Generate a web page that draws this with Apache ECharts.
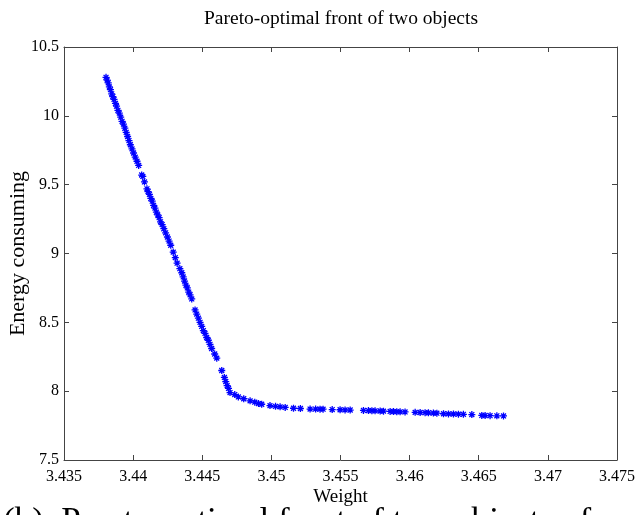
<!DOCTYPE html>
<html>
<head>
<meta charset="utf-8">
<script src="https://cdn.jsdelivr.net/npm/echarts@6/dist/echarts.min.js"></script>
<style>html,body{margin:0;padding:0;background:#fff;}#c{width:635px;height:515px;}</style>
</head>
<body>
<div id="c"></div>
<script>
var weights = [
3.43804,3.43812,3.43820,3.43828,3.43836,3.43845,3.43853,3.43862,3.43872,3.43880,
3.43890,3.43900,3.43910,3.43920,3.43930,3.43940,3.43950,3.43960,3.43970,3.43980,
3.43992,3.44003,3.44015,3.44028,3.44040,3.44062,3.44070,3.44082,3.44100,3.44108,
3.44118,3.44128,3.44138,3.44148,3.44158,3.44168,3.44178,3.44188,3.44198,3.44210,
3.44222,3.44235,3.44248,3.44260,3.44272,3.44290,3.44305,3.44318,3.44338,3.44352,
3.44362,3.44372,3.44382,3.44392,3.44402,3.44412,3.44424,3.44448,3.44460,3.44472,
3.44484,3.44496,3.44508,3.44520,3.44532,3.44544,3.44556,3.44568,3.44590,3.44605,
3.44641,3.44660,3.44670,3.44680,3.44690,3.44701,3.44735,3.44761,3.44800,3.44846,
3.44880,3.44907,3.44930,3.44990,3.45030,3.45063,3.45100,3.45160,3.45210,3.45280,
3.45320,3.45352,3.45374,3.45440,3.45497,3.45533,3.45570,3.45666,3.45702,3.45727,
3.45750,3.45787,3.45811,3.45859,3.45883,3.45907,3.45931,3.45967,3.46040,3.46076,
3.46112,3.46136,3.46172,3.46197,3.46245,3.46281,3.46317,3.46353,3.46389,3.46450,
3.46522,3.46546,3.46582,3.46631,3.46679
];
var energies = [
10.28,10.26,10.24,10.21,10.19,10.16,10.14,10.12,10.09,10.07,
10.04,10.02,9.99,9.96,9.94,9.91,9.88,9.85,9.82,9.79,
9.76,9.73,9.70,9.67,9.64,9.57,9.56,9.52,9.47,9.45,
9.43,9.40,9.38,9.35,9.33,9.30,9.28,9.26,9.23,9.21,
9.18,9.15,9.12,9.09,9.06,9.01,8.97,8.93,8.89,8.86,
8.83,8.80,8.77,8.75,8.72,8.70,8.67,8.59,8.56,8.53,
8.50,8.47,8.44,8.42,8.39,8.37,8.34,8.31,8.27,8.24,
8.15,8.10,8.07,8.04,8.02,7.99,7.975,7.958,7.945,7.93,
7.92,7.91,7.905,7.895,7.89,7.886,7.882,7.876,7.874,7.870,
7.870,7.869,7.869,7.866,7.865,7.864,7.863,7.860,7.859,7.858,
7.857,7.856,7.855,7.853,7.852,7.851,7.850,7.849,7.846,7.845,
7.844,7.843,7.841,7.840,7.836,7.835,7.834,7.833,7.832,7.830,
7.824,7.823,7.822,7.821,7.820
];
var xTicks = {min: 3.435, max: 3.475, interval: 0.005};
var yTicks = {min: 7.5, max: 10.5, interval: 0.5};
var titleText = 'Pareto-optimal front of two objects';
var xName = 'Weight';
var yName = 'Energy consuming';
var captionText = '(b)  Pareto-optimal front of two objects of';

var pts = weights.map(function (w, i) { return [w, energies[i]]; });
var serif = '"Liberation Serif", "Times New Roman", serif';
var axisCol = '#444';
function xFmt(v) { return (+v.toFixed(3)).toString(); }
function yFmt(v) { return (+v.toFixed(1)).toString(); }

var chart = echarts.init(document.getElementById('c'), null, {renderer: 'canvas'});
chart.setOption({
  backgroundColor: '#fff',
  animation: false,
  title: {
    text: titleText, left: 336, top: 4, textAlign: 'center',
    textStyle: {fontFamily: serif, fontSize: 19.5, fontWeight: 'normal', color: '#000'}
  },
  grid: {left: 64, right: 18, top: 47, bottom: 55, containLabel: false, outerBoundsMode: 'none'},
  xAxis: [{
    type: 'value', min: xTicks.min, max: xTicks.max, interval: xTicks.interval,
    position: 'bottom',
    name: xName, nameLocation: 'middle', nameGap: 28, nameMoveOverlap: false,
    nameTextStyle: {fontFamily: serif, fontSize: 19, color: '#000'},
    axisLine: {show: true, lineStyle: {color: axisCol, width: 1}},
    axisTick: {show: true, inside: true, length: 5, lineStyle: {color: axisCol}},
    axisLabel: {fontFamily: serif, fontSize: 16, color: '#000', margin: 9, formatter: xFmt, showMinLabel: true, showMaxLabel: true, hideOverlap: false},
    splitLine: {show: false}
  }, {
    type: 'value', min: xTicks.min, max: xTicks.max, interval: xTicks.interval,
    position: 'top',
    axisLine: {show: true, lineStyle: {color: axisCol, width: 1}},
    axisTick: {show: true, inside: true, length: 5, lineStyle: {color: axisCol}},
    axisLabel: {show: false}, splitLine: {show: false}
  }],
  yAxis: [{
    type: 'value', min: yTicks.min, max: yTicks.max, interval: yTicks.interval,
    position: 'left',
    name: yName, nameLocation: 'middle', nameGap: 35, nameRotate: 90, nameMoveOverlap: false,
    nameTextStyle: {fontFamily: serif, fontSize: 22, color: '#000'},
    axisLine: {show: true, lineStyle: {color: axisCol, width: 1}},
    axisTick: {show: true, inside: true, length: 5, lineStyle: {color: axisCol}},
    axisLabel: {fontFamily: serif, fontSize: 16, color: '#000', margin: 5, formatter: yFmt, showMinLabel: true, showMaxLabel: true, hideOverlap: false},
    splitLine: {show: false}
  }, {
    type: 'value', min: yTicks.min, max: yTicks.max, interval: yTicks.interval,
    position: 'right',
    axisLine: {show: true, lineStyle: {color: axisCol, width: 1}},
    axisTick: {show: true, inside: true, length: 5, lineStyle: {color: axisCol}},
    axisLabel: {show: false}, splitLine: {show: false}
  }],
  graphic: [{
    type: 'text', left: 3, top: 505,
    style: {text: captionText, font: '35px ' + serif, fill: '#000'}
  }],
  series: [{
    type: 'scatter',
    xAxisIndex: 0, yAxisIndex: 0,
    data: pts,
    symbol: 'path://M5,0L5,10M0,5L10,5M1.5,1.5L8.5,8.5M1.5,8.5L8.5,1.5',
    symbolSize: 7,
    itemStyle: {color: '#0000ff', borderColor: '#0000ff', borderWidth: 1.3, opacity: 1},
    emphasis: {disabled: true}
  }]
});
</script>
</body>
</html>
